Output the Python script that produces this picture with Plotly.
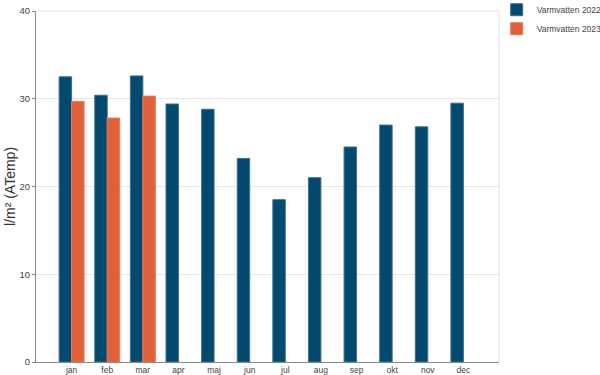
import plotly.graph_objects as go

months = ["jan", "feb", "mar", "apr", "maj", "jun", "jul", "aug", "sep", "okt", "nov", "dec"]
v2022 = [32.5, 30.4, 32.6, 29.4, 28.8, 23.2, 18.5, 21.0, 24.5, 27.0, 26.8, 29.5]
v2023 = [29.7, 27.8, 30.3]
months2023 = months[:3]
y_ticks = [0, 10, 20, 30, 40]

fig = go.Figure()
fig.add_trace(go.Bar(x=months, y=v2022, name="Varmvatten 2022",
                     marker=dict(color="#034a6e", line=dict(color="#3d6f8c", width=1))))
fig.add_trace(go.Bar(x=months2023, y=v2023, name="Varmvatten 2023",
                     marker=dict(color="#e0603a", line=dict(color="#e87a55", width=1))))

fig.update_layout(
    width=600, height=375,
    margin=dict(l=36, r=101, t=11, b=13, autoexpand=False),
    plot_bgcolor="white", paper_bgcolor="white",
    barmode="group", bargap=0.3, bargroupgap=0,
    font=dict(family="Liberation Sans, Arial", size=9, color="#444"),
    showlegend=True,
    legend=dict(x=0.995, y=1.045, xanchor="left", yanchor="top",
                bgcolor="rgba(0,0,0,0)",
                font=dict(size=8.5, color="#444"), itemwidth=30),
    xaxis=dict(categoryorder="array", categoryarray=months, range=[-1, 12],
               showline=True, linecolor="#888", linewidth=1,
               ticks="", automargin=False,
               showgrid=False, tickfont=dict(size=8.5, color="#444"),
               mirror=False),
    yaxis=dict(range=[0, 40], tickvals=y_ticks, showline=True, linecolor="#888",
               linewidth=1, ticks="outside", ticklen=3, tickcolor="#888", automargin=False,
               gridcolor="#e6e6e6", tickfont=dict(size=9.5, color="#444"),
               title=dict(text="l/m² (ATemp)", font=dict(size=14, color="#333"), standoff=0),
               zeroline=False),
)
fig.add_shape(type="line", xref="paper", yref="paper", x0=1, x1=1, y0=0, y1=1,
              line=dict(color="#e0e0e0", width=1))
fig.add_shape(type="line", xref="paper", yref="paper", x0=0, x1=1, y0=1, y1=1,
              line=dict(color="#e6e6e6", width=1))
fig.write_html("out.html", config={"displayModeBar": False},
               post_script="document.body.style.margin='0';")
